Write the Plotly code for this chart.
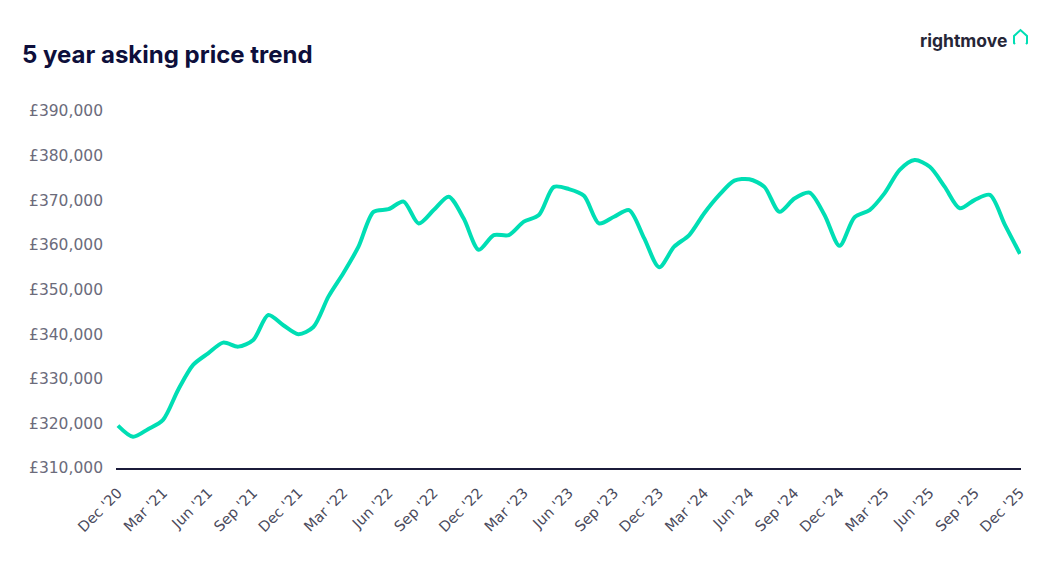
import plotly.graph_objects as go

months = ["Dec '20", "Jan '21", "Feb '21", "Mar '21", "Apr '21", "May '21", "Jun '21", "Jul '21", "Aug '21", "Sep '21",
          "Oct '21", "Nov '21", "Dec '21", "Jan '22", "Feb '22", "Mar '22", "Apr '22", "May '22", "Jun '22", "Jul '22",
          "Aug '22", "Sep '22", "Oct '22", "Nov '22", "Dec '22", "Jan '23", "Feb '23", "Mar '23", "Apr '23", "May '23",
          "Jun '23", "Jul '23", "Aug '23", "Sep '23", "Oct '23", "Nov '23", "Dec '23", "Jan '24", "Feb '24", "Mar '24",
          "Apr '24", "May '24", "Jun '24", "Jul '24", "Aug '24", "Sep '24", "Oct '24", "Nov '24", "Dec '24", "Jan '25",
          "Feb '25", "Mar '25", "Apr '25", "May '25", "Jun '25", "Jul '25", "Aug '25", "Sep '25", "Oct '25", "Nov '25",
          "Dec '25"]

prices = [319500, 317000, 318700, 320800, 327500, 333100, 335700, 338100, 337200, 338700,
          344300, 342000, 340000, 341600, 348400, 353700, 359600, 367400, 368000, 369700,
          364800, 367800, 370800, 365900, 358900, 362200, 362200, 365200, 366700, 373000,
          372500, 371000, 364800, 366300, 367800, 361500, 355000, 359600, 362200, 367100,
          371200, 374400, 374700, 373000, 367400, 370400, 371700, 366700, 359800, 366200,
          367800, 371600, 376800, 379000, 377500, 373000, 368200, 370100, 371200, 364500,
          358000]

tick_idx = list(range(0, 61, 3))
tick_labels = [months[i] for i in tick_idx]
y_ticks = list(range(310000, 390001, 10000))
y_labels = [f"£{v:,}" for v in y_ticks]

W, H = 1064, 572
L, R, T, B = 116, 43, 111, 104

fig = go.Figure()
fig.add_trace(go.Scatter(
    x=list(range(len(prices))), y=prices, mode="lines",
    line=dict(color="#00deb4", width=4, shape="spline", smoothing=0.8),
    hoverinfo="skip", showlegend=False))

def px(x):
    return (x - L) / (W - L - R)

def py(y):
    return (H - B - y) / (H - T - B)

# house icon of logo
hx = [1015, 1014, 1014, 1020.5, 1027, 1027, 1026]
hy = [44, 43, 36, 30, 36, 43, 44]
path = "M " + " L ".join(f"{px(a)},{py(b)}" for a, b in zip(hx, hy))
fig.add_shape(type="path", path=path, xref="paper", yref="paper",
              line=dict(color="#00deb4", width=2))

fig.add_annotation(text="<b>5 year asking price trend</b>", xref="paper", yref="paper",
                   x=px(20), y=py(55), xanchor="left", yanchor="middle", showarrow=False,
                   font=dict(family="Inter", size=24, color="#0e0f3b"))
fig.add_annotation(text="<b>rightmove</b>", xref="paper", yref="paper",
                   x=px(1009), y=py(40), xanchor="right", yanchor="middle", showarrow=False,
                   font=dict(family="Inter", size=17.5, color="#262637"))

fig.update_layout(
    width=W, height=H, margin=dict(l=L, r=R, t=T, b=B),
    paper_bgcolor="white", plot_bgcolor="white",
    xaxis=dict(range=[-0.13, 60.07], tickmode="array", tickvals=tick_idx, ticktext=tick_labels,
               tickangle=-45, showgrid=False, zeroline=False, showline=True, linecolor="#1b1b3a",
               linewidth=1.5, ticks="", ticklabelstandoff=9,
               tickfont=dict(family="DejaVu Sans", size=14.5, color="#4a4a5c")),
    yaxis=dict(range=[310000, 390000], tickmode="array", tickvals=y_ticks, ticktext=y_labels,
               showgrid=False, zeroline=False, showline=False, ticks="", ticklabelstandoff=12,
               tickfont=dict(family="DejaVu Sans", size=15.5, color="#6b6b7b")),
)

fig.write_html("out.html")
